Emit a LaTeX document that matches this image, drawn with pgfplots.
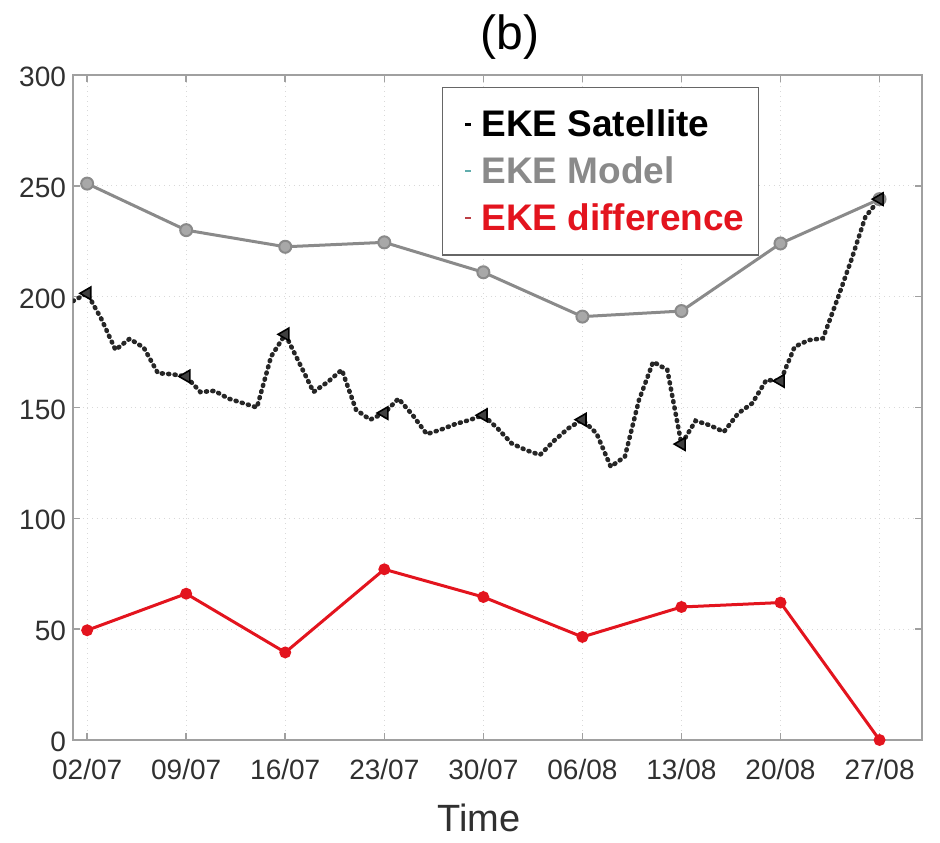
\documentclass[border=0pt]{standalone}
\usepackage{pgfplots}
\usepackage{pgfplotstable}
\pgfplotsset{compat=1.18}
\usepackage{fontspec}
\setmainfont{Liberation Sans}

\definecolor{modelgray}{HTML}{8A8A8A}
\definecolor{modelfill}{HTML}{A8A8A8}
\definecolor{diffred}{HTML}{E3141E}
\definecolor{framegray}{HTML}{A0A0A0}
\definecolor{labelgray}{HTML}{303030}

% Daily satellite EKE (day 0 = 02/07)
\pgfplotstableread{
day eke
-1 198
0 201.5
1 190
2 176
3 181
4 177
5 165.5
6 165
7 164
8 157
9 157.5
10 154
11 152
12 150
13 173
14 183
15 170
16 157
17 161.5
18 167
19 149
20 144.5
21 147.5
22 154
23 146.6
24 138
25 140
26 142.5
27 144.3
28 146.5
29 140.6
30 133.8
31 130.8
32 128.6
33 135
34 140.6
35 144.5
36 138.3
37 123.3
38 127.8
39 153.4
40 170.6
41 167
42 133.5
43 144
44 142
45 139
46 147.3
47 151.9
48 162.4
49 162
50 177.4
51 180.4
52 181.2
53 198.5
54 216.5
55 236
56 244
}\satdaily

% Weekly values: model, satellite and their difference
\pgfplotstableread{
day model sat diff
0 251 201.5 49.5
7 230 164 66
14 222.5 183 39.5
21 224.5 147.5 77
28 211 146.5 64.5
35 191 144.5 46.5
42 193.5 133.5 60
49 224 162 62
56 244 244 0
}\weekly

\begin{document}
\begin{tikzpicture}
\begin{axis}[
  name=ax,
  scale only axis,
  width=424.5pt, height=332.5pt,
  xmin=-1, xmax=59, ymin=0, ymax=300,
  xtick={0,7,...,56},
  xticklabels={02/07,09/07,16/07,23/07,30/07,06/08,13/08,20/08,27/08},
  ytick={0,50,...,300},
  /pgf/number format/assume math mode=true,
  tick label style={font=\fontsize{14}{16}\selectfont, text=labelgray},
  xticklabel style={inner ysep=0pt, yshift=-9.2pt},
  yticklabel style={inner ysep=0pt, yshift=-1pt},
  grid=major,
  grid style={dotted, line width=0.5pt, gray!30},
  axis line style={framegray, line width=1pt},
  tick style={framegray, line width=0.8pt},
  major tick length=3.5pt,
  tick align=inside,
  title={(b)},
  title style={font=\fontsize{24}{28}\selectfont, text=black,
    at={(axis description cs:0.515,1)}, anchor=center, yshift=13pt},
  xlabel={Time},
  xlabel style={font=\fontsize{19}{22}\selectfont, text=labelgray,
    at={(axis description cs:0.478,0)}, anchor=center, yshift=-39pt},
  legend cell align=left,
  legend style={at={(rel axis cs:0.4346,0.982)}, anchor=north west,
    draw=gray!80!black, line width=0.75pt,
    font=\fontsize{18.5}{22}\selectfont\bfseries,
    inner xsep=5pt, inner ysep=9pt,
    row sep=4.5pt},
]
\addplot[black!85, line width=2.3pt, line cap=round, dash pattern=on 0.5pt off 2.7pt,
  legend image code/.code={\path (-6pt,0pt) (4pt,0pt);\draw[solid,black,line width=1.6pt,line cap=butt] (-1pt,0pt)--(2pt,0pt);}]
  table[x=day, y=eke] {\satdaily};
\addlegendentry{\textcolor{black}{EKE Satellite}}
\addplot[modelgray, line width=1.5pt, mark=*, mark size=3pt,
  mark options={fill=modelfill, draw=modelgray, line width=1pt},
  legend image code/.code={\path (-6pt,0pt) (4pt,0pt);\draw[solid,modelgray!70!cyan,line width=1pt] (-1pt,0pt)--(2pt,0pt);}]
  table[x=day, y=model] {\weekly};
\addlegendentry{\textcolor{modelgray}{EKE Model}}
\addplot[diffred, line width=1.5pt, mark=*, mark size=2.2pt,
  mark options={fill=diffred, draw=diffred},
  legend image code/.code={\path (-6pt,0pt) (4pt,0pt);\draw[solid,diffred!60!gray,line width=1pt] (-1pt,0pt)--(2pt,0pt);}]
  table[x=day, y=diff] {\weekly};
\addlegendentry{\textcolor{diffred}{EKE difference}}
\addplot[only marks, mark=triangle*, mark size=3.6pt,
  mark options={solid, rotate=90, fill=black!75, draw=black, line width=0.8pt}, forget plot]
  table[x=day, y=sat] {\weekly};
\end{axis}
\path ([shift={(-36.5pt,-51.5pt)}]ax.south west) rectangle ([shift={(9pt,37.5pt)}]ax.north east);
\end{tikzpicture}
\end{document}
